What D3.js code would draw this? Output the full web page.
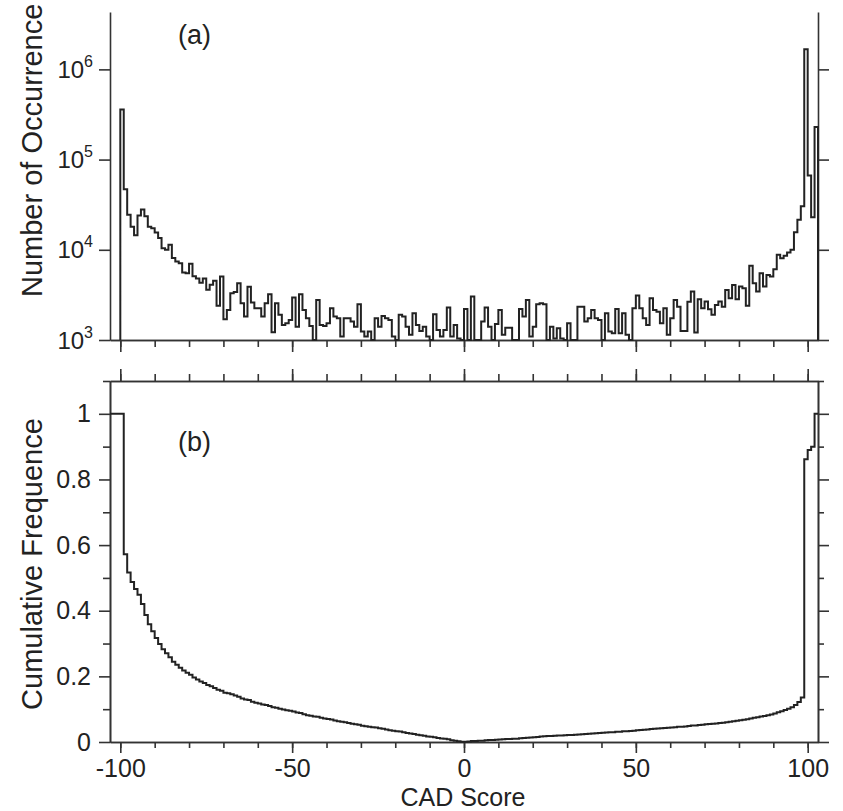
<!DOCTYPE html>
<html><head><meta charset="utf-8">
<script src="https://cdn.jsdelivr.net/npm/d3@7"></script>
<style>
body{margin:0;background:#fff}
svg text{font-family:"Liberation Sans",Arial,Helvetica,sans-serif;fill:#222}
</style>
</head><body><svg id="c" width="843" height="811"></svg>
<script>
// ---------------- data ----------------
const binStart = -100;          // left edge of first histogram bin (bins are 1 unit wide)
const negCounts = [             // bins -100 .. -1
  360000, 47000, 24500, 18000, 14500, 24000, 28000, 23500, 18000, 17300,
  15500, 13500, 10400, 10000, 11400, 8100, 7400, 7100, 5600, 5500,
  7000, 5100, 4800, 4300, 4800, 3600, 4100, 4550, 2400, 5050,
  1700, 2150, 3300, 3400, 4270, 2550, 1820, 3900, 2600, 2250,
  2250, 1820, 2550, 3210, 1220, 2550, 1900, 1470, 1530, 1670,
  2950, 1400, 3210, 2150, 1740, 1430, 900, 2780, 1470, 1430,
  1530, 2250, 1820, 1740, 1090, 1740, 1740, 1600, 1400, 2490,
  1240, 1090, 1240, 900, 1740, 1400, 1850, 1740, 1670, 1090,
  900, 1900, 1820, 1400, 1140, 1980, 1470, 1260, 1400, 1090,
  900, 1930, 1290, 1090, 1290, 2290, 1090, 1470, 1040, 900
];
const posCounts = [             // bins 0 .. 102
  2210, 900, 3030, 900, 900, 1600, 2290, 1400, 900, 1500,
  2150, 1140, 1370, 1370, 900, 900, 2210, 1820, 2780, 1090,
  1400, 2490, 2560, 2490, 900, 1400, 1040, 1350, 1040, 900,
  1530, 900, 900, 2340, 2340, 1600, 1740, 2150, 1740, 1670,
  900, 1980, 1240, 1190, 2210, 1190, 1980, 1140, 900, 2250,
  3110, 2250, 1740, 1470, 2900, 2150, 2060, 1530, 2250, 1140,
  1740, 2780, 2340, 1260, 1260, 2660, 3440, 1210, 2830, 2250,
  2670, 2190, 1900, 2450, 2670, 2340, 3590, 2900, 4080, 2830,
  3910, 3750, 2390, 6640, 4260, 3440, 5510, 3910, 5270, 5060,
  6100, 8790, 8070, 8580, 9340, 10000, 15600, 21500, 30300, 1670000,
  66400, 22900, 230000
];
const decadeTicks = [1e3, 1e4, 1e5, 1e6];
const decadeExponents = ["3", "4", "5", "6"];
const xMajorTicks = [-100, -50, 0, 50, 100];
const xMinorTicks = [-100, -90, -80, -70, -60, -50, -40, -30, -20, -10, 0, 10, 20, 30, 40, 50, 60, 70, 80, 90, 100];
const cumMajorTicks = [0, 0.2, 0.4, 0.6, 0.8, 1];
const cumMinorTicks = [0.1, 0.3, 0.5, 0.7, 0.9, 1.1];
const xTitle = "CAD Score";
const yTopTitle = "Number of Occurrence";
const yBotTitle = "Cumulative Frequence";
const panelLabels = ["(a)", "(b)"];

// ---------------- layout ----------------
const svg = d3.select("#c");
const INK = "#222", AX = "#333";
const x = d3.scaleLinear().domain([-103, 103]).range([110, 818]);
const yTop = d3.scaleLog().domain([1e3, Math.pow(10, 6.636)]).range([340, 12]);
const yBot = d3.scaleLinear().domain([0, 1.1]).range([742, 381]);

function styleAxis(g) {
  g.attr("font-family", null).attr("font-size", null);
  g.select(".domain").attr("stroke", AX).attr("stroke-width", 1.6);
  g.selectAll(".tick line").attr("stroke", AX).attr("stroke-width", 1.6);
  g.selectAll(".tick text").attr("font-size", 25).attr("fill", INK);
}
function addAxis(axis, tx, ty) {
  const g = svg.append("g").attr("transform", `translate(${tx},${ty})`).call(axis);
  styleAxis(g);
  return g;
}
const noLab = () => "";

// ---- top panel axes ----
addAxis(d3.axisLeft(yTop).tickValues(decadeTicks).tickSize(11).tickSizeOuter(0).tickFormat(noLab), 110, 0);
addAxis(d3.axisRight(yTop).tickValues(decadeTicks).tickSize(11).tickSizeOuter(0).tickFormat(noLab), 818, 0);
addAxis(d3.axisBottom(x).tickValues(xMinorTicks).tickSize(7).tickSizeOuter(0).tickFormat(noLab), 0, 340);
addAxis(d3.axisBottom(x).tickValues(xMajorTicks).tickSize(12).tickSizeOuter(0).tickFormat(noLab), 0, 340);

// decade labels 10^n
decadeTicks.forEach((v, i) => {
  const t = svg.append("text").attr("x", 93).attr("y", yTop(v) + 8.5)
    .attr("text-anchor", "end").attr("fill", INK);
  t.append("tspan").attr("font-size", 24).text("10");
  t.append("tspan").attr("font-size", 16).attr("dy", -11).text(decadeExponents[i]);
});

// histogram outline
const counts = negCounts.concat(posCounts);
const floorV = yTop.domain()[0];
const histPts = [[binStart, floorV]]
  .concat(counts.map((c, i) => [binStart + i, Math.max(c, floorV)]))
  .concat([[binStart + counts.length, floorV]]);
const stepLine = (ys) => d3.line().x(d => x(d[0])).y(d => ys(d[1])).curve(d3.curveStepAfter);
svg.append("path").datum(histPts).attr("d", stepLine(yTop))
  .attr("fill", "none").attr("stroke", INK).attr("stroke-width", 2).attr("stroke-linejoin", "miter");

// ---- bottom panel axes ----
addAxis(d3.axisLeft(yBot).tickValues(cumMinorTicks).tickSize(7).tickSizeOuter(0).tickFormat(noLab), 110, 0);
addAxis(d3.axisLeft(yBot).tickValues(cumMajorTicks).tickSize(11).tickPadding(8).tickSizeOuter(0).tickFormat(d => String(d)), 110, 0);
addAxis(d3.axisRight(yBot).tickValues(cumMinorTicks).tickSize(6).tickSizeOuter(0).tickFormat(noLab), 818, 0);
addAxis(d3.axisRight(yBot).tickValues(cumMajorTicks).tickSize(11).tickSizeOuter(0).tickFormat(noLab), 818, 0);
addAxis(d3.axisTop(x).tickValues(xMinorTicks).tickSize(7).tickSizeOuter(0).tickFormat(noLab), 0, 381);
addAxis(d3.axisTop(x).tickValues(xMajorTicks).tickSize(12).tickSizeOuter(0).tickFormat(noLab), 0, 381);
addAxis(d3.axisBottom(x).tickValues(xMinorTicks).tickSize(6).tickSizeOuter(0).tickFormat(noLab), 0, 742);
addAxis(d3.axisBottom(x).tickValues(xMajorTicks).tickSize(11).tickPadding(6).tickSizeOuter(0).tickFormat(d => String(d)), 0, 742);

// cumulative curve (computed from histogram counts, each side separately)
const totalNeg = d3.sum(negCounts), totalPos = d3.sum(posCounts);
const cumPts = [[x.domain()[0], 1]];
negCounts.forEach((c, i) => cumPts.push([binStart + i, d3.sum(negCounts.slice(i)) / totalNeg]));
let run = 0;
posCounts.forEach((c, i) => { run += c; cumPts.push([i, run / totalPos]); });
cumPts.push([x.domain()[1], 1]);
svg.append("path").datum(cumPts).attr("d", stepLine(yBot))
  .attr("fill", "none").attr("stroke", INK).attr("stroke-width", 2);

// ---- titles & labels ----
svg.append("text").attr("transform", "translate(42,297) rotate(-90)")
  .attr("text-anchor", "start").attr("font-size", 29).text(yTopTitle);
svg.append("text").attr("transform", "translate(42,564) rotate(-90)")
  .attr("text-anchor", "middle").attr("font-size", 29).text(yBotTitle);
svg.append("text").attr("x", 463).attr("y", 805.5).attr("text-anchor", "middle")
  .attr("font-size", 25).text(xTitle);
svg.append("text").attr("x", 178).attr("y", 44).attr("font-size", 27).text(panelLabels[0]);
svg.append("text").attr("x", 178).attr("y", 451).attr("font-size", 27).text(panelLabels[1]);
</script>
</body></html>
